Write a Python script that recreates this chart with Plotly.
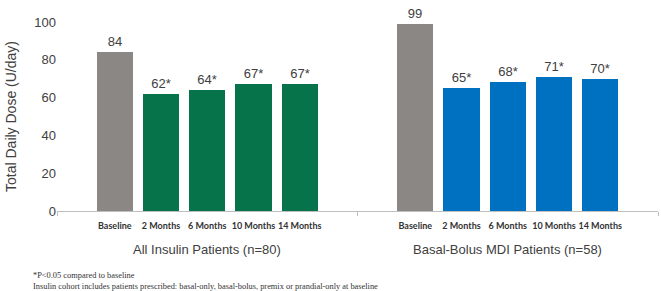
import plotly.graph_objects as go

timepoints = ["Baseline", "2 Months", "6 Months", "10 Months", "14 Months"]
groups = ["All Insulin Patients (n=80)", "Basal-Bolus MDI Patients (n=58)"]
all_insulin = [84, 62, 64, 67, 67]
basal_bolus = [99, 65, 68, 71, 70]
significant = [False, True, True, True, True]
yticks = [0, 20, 40, 60, 80, 100]

series = [all_insulin, basal_bolus]
colors_main = ["#06734a", "#0070c0"]
gray = "#8a8784"

slots_per_group = 6.5
lead = 1.25

fig = go.Figure()
tickvals, ticktext = [], []
for g, vals in enumerate(series):
    xs = [g * slots_per_group + lead + i for i in range(len(vals))]
    labels = [f"{v}*" if s else f"{v}" for v, s in zip(vals, significant)]
    cols = [gray] + [colors_main[g]] * (len(vals) - 1)
    fig.add_trace(go.Bar(
        x=xs, y=vals, width=0.78, marker=dict(color=cols, line=dict(width=0)),
        text=labels, textposition="outside", cliponaxis=False,
        textfont=dict(family="Arial, Liberation Sans", size=13, color="#404040"),
        showlegend=False, hoverinfo="skip"))
    tickvals += xs
    ticktext += [f"<b>{t}</b>" for t in timepoints]
    fig.add_annotation(x=g * slots_per_group + slots_per_group / 2, xref="x",
                       y=0, yref="paper", yanchor="top", yshift=-29,
                       text=groups[g], showarrow=False,
                       font=dict(family="Arial, Liberation Sans", size=13, color="#404040"))

total = slots_per_group * len(series)
fig.add_trace(go.Scatter(x=[0, total], y=[0, 0], xaxis="x2", mode="none",
                         showlegend=False, hoverinfo="skip"))

fig.update_layout(
    width=661, height=291, plot_bgcolor="white", paper_bgcolor="white",
    margin=dict(l=57, r=3, t=22, b=80, autoexpand=False),
    bargap=0,
    xaxis=dict(range=[0, total], tickvals=tickvals, ticktext=ticktext,
               tickangle=0, automargin=False,
               showline=True, linecolor="#bfbfbf", linewidth=1, ticks="",
               showgrid=False, zeroline=False,
               tickfont=dict(family="Lato, Open Sans", size=9, color="#333333"),
               ticklabelstandoff=6),
    xaxis2=dict(range=[0, total], overlaying="x", side="bottom", automargin=False,
                tickvals=[0, slots_per_group, total], ticks="outside", ticklen=4,
                tickcolor="#bfbfbf", showticklabels=False, showgrid=False,
                zeroline=False, showline=False),
    yaxis=dict(range=[0, 100], tickvals=yticks, showline=False, showgrid=False,
               zeroline=False, ticks="", automargin=False,
               tickfont=dict(family="Arial, Liberation Sans", size=13, color="#404040"),
               title=dict(text="Total Daily Dose (U/day)", standoff=14,
                          font=dict(family="Arial, Liberation Sans", size=14, color="#404040"))),
)

fig.add_annotation(x=0, xref="paper", xanchor="left", xshift=-26,
                   y=0, yref="paper", yanchor="top", yshift=-58,
                   text="*P<0.05 compared to baseline<br>Insulin cohort includes patients prescribed: basal-only, basal-bolus, premix or prandial-only at baseline",
                   align="left", showarrow=False,
                   font=dict(family="Liberation Serif, Times New Roman", size=8.4, color="#333333"))

fig.write_html("out.html", config={"displayModeBar": False},
               post_script="document.body.style.margin='0';")
